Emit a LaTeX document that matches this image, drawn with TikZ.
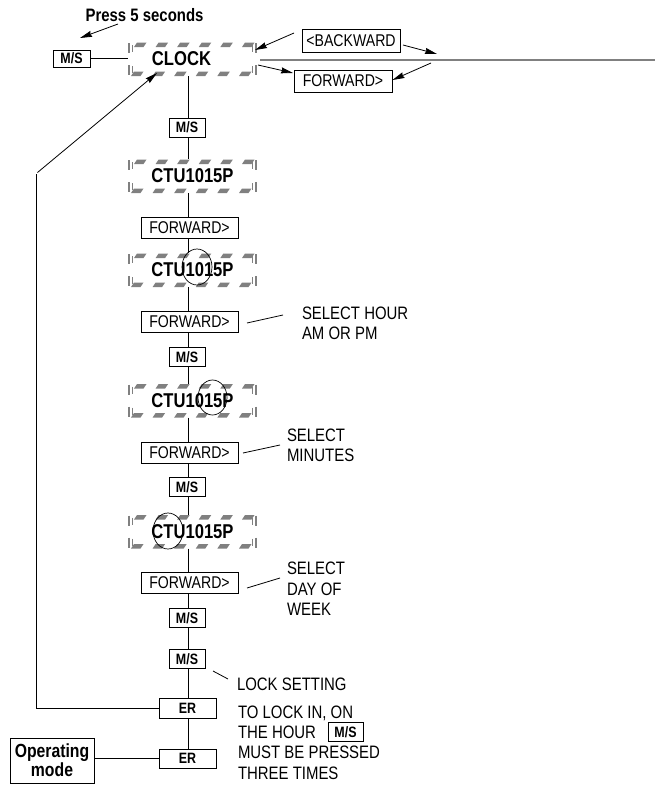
\documentclass[tikz,border=0pt]{standalone}
\usepackage{fontspec}
\setmainfont{Liberation Sans}[FakeStretch=0.83]
\usetikzlibrary{arrows.meta,calc}
\definecolor{hatchgray}{RGB}{128,128,128}
\newcommand\hatchbox[1]{%
  \begin{scope}[shift={(#1.north west)}]
    \foreach \i in {0,...,5} {
      \fill[hatchgray] ({\i*21.6+6},5) -- ++(9.5,0) -- ++(3,-4.5) -- ++(-9.5,0) -- cycle;
      \fill[hatchgray] ({\i*21.6+3},34) -- ++(9.5,0) -- ++(3,-4.5) -- ++(-9.5,0) -- cycle;
    }
    \draw[hatchgray,line width=1.6pt] (1,1) -- (1,11) (1,23) -- (1,33)
                                        (128,1) -- (128,11) (128,23) -- (128,33);
    \draw[hatchgray,line width=0.9pt] (4.5,3) -- (4.5,10) (4.5,24) -- (4.5,31)
                                        (124.5,3) -- (124.5,10) (124.5,24) -- (124.5,31);
  \end{scope}}
\begin{document}
\begin{tikzpicture}[x=1pt,y=-1pt,
  every node/.style={inner sep=0pt, outer sep=0pt},
  btn/.style={draw, line width=0.8pt, minimum width=36pt, minimum height=19pt,
    font=\bfseries\fontsize{15}{15}\selectfont},
  fwdbox/.style={draw, line width=0.8pt, minimum width=97pt, minimum height=21pt,
    font=\fontsize{17}{17}\selectfont},
  disp/.style={minimum width=129pt, minimum height=34pt,
    font=\bfseries\fontsize{20}{20}\selectfont},
  note/.style={anchor=west, align=left, font=\fontsize{18}{20.3}\selectfont},
  conn/.style={line width=0.8pt},
  arr/.style={line width=0.8pt, -{Stealth[length=12pt,width=6pt,inset=1pt]}}
]
\useasboundingbox (0,0) rectangle (655,787);

% coordinates
\coordinate (sp) at (188,0);

% display boxes
\node[disp] (clock) at (192.5,59) {\hspace*{-22pt}CLOCK};
\node[disp] (ctu1) at (192.5,176) {CTU1015P};
\node[disp] (ctu2) at (192.5,270) {CTU1015P};
\node[disp] (ctu3) at (192.5,400.5) {CTU1015P};
\node[disp] (ctu4) at (192.5,531.5) {CTU1015P};
\hatchbox{clock}
\hatchbox{ctu1}
\hatchbox{ctu2}
\hatchbox{ctu3}
\hatchbox{ctu4}

% buttons
\node[btn, minimum width=37pt, minimum height=17pt] (msl) at (71.5,58.5) {M/S};
\node[btn] (ms1) at (187,127.5) {M/S};
\node[btn] (ms2) at (187,357) {M/S};
\node[btn] (ms3) at (187,487) {M/S};
\node[btn] (ms4) at (187,618) {M/S};
\node[btn] (ms5) at (187,659) {M/S};
\node[btn, minimum width=57pt, minimum height=20pt] (er1) at (187.5,708) {ER};
\node[btn, minimum width=57pt, minimum height=19pt] (er2) at (187.5,758.5) {ER};
\node[draw, line width=0.8pt, minimum width=84pt, minimum height=45pt, align=center,
      font=\bfseries\fontsize{19}{19}\selectfont] (opm) at (52,760.5) {Operating\\mode};

\node[fwdbox, minimum width=98pt, minimum height=23pt] (back) at (351,40.5) {<BACKWARD};
\node[fwdbox, minimum width=98pt, minimum height=22pt] (fwdt) at (343,81) {FORWARD>};
\node[fwdbox] (fwd1) at (189.5,227.5) {FORWARD>};
\node[fwdbox] (fwd2) at (189.5,321.5) {FORWARD>};
\node[fwdbox] (fwd3) at (189.5,453) {FORWARD>};
\node[fwdbox] (fwd4) at (189.5,583) {FORWARD>};

% texts
\node[font=\bfseries\fontsize{18}{18}\selectfont] (press) at (144.5,15) {Press 5 seconds};
\node[note] (t1) at (302,323) {SELECT HOUR\\AM OR PM};
\node[note] (t2) at (287,445) {SELECT\\MINUTES};
\node[note] (t3) at (287,589) {SELECT\\DAY OF\\WEEK};
\node[note] (t4) at (237,684) {LOCK SETTING};
\node[note] (t5) at (238,742.5) {TO LOCK IN, ON\\THE HOUR\\MUST BE PRESSED\\THREE TIMES};
\node[btn, minimum width=35pt, minimum height=19pt] (msin) at (345.5,732) {M/S};

% circles
\draw[line width=0.7pt] (197,267) ellipse [x radius=15pt, y radius=18pt];
\draw[line width=0.7pt] (212.5,397.5) ellipse [x radius=14.5pt, y radius=17.5pt];
\draw[line width=0.7pt] (168,531) ellipse [x radius=15pt, y radius=18pt];

% spine
\foreach \a/\b in {clock/ms1, ms1/ctu1, ctu1/fwd1, fwd1/ctu2, ctu2/fwd2, fwd2/ms2,
                   ms2/ctu3, ctu3/fwd3, fwd3/ms3, ms3/ctu4, ctu4/fwd4, fwd4/ms4,
                   ms4/ms5, ms5/er1, er1/er2}
  \draw[conn] (\a.south -| sp) -- (\b.north -| sp);

% other connectors
\draw[conn] (msl.east) -- (msl.east -| clock.west);
\draw[conn] (opm.east |- er2.west) -- (er2.west);
\coordinate (lc) at (36,174);
\coordinate (lc2) at (37.5,172.5);
\coordinate (clktip) at (157,73);
\draw[conn] (er1.west) -| (lc);
\draw[arr] (lc2) -- (clktip);

% gray line
\coordinate (gl) at (260,60);
\coordinate (gr) at (655,60);
\draw[hatchgray, line width=1.8pt] (gl) -- (gr);

% arrows
\coordinate (pa) at (118,24); \coordinate (pb) at (80,38);
\draw[arr] (pa) -- (pb);
\coordinate (ba) at (294,33); \coordinate (bb) at (255,50);
\draw[arr] (ba) -- (bb);
\coordinate (bc) at (403,45); \coordinate (bd) at (437,54);
\draw[arr] (bc) -- (bd);
\coordinate (fa) at (258,65); \coordinate (fb) at (293,73);
\draw[arr] (fa) -- (fb);
\coordinate (fc) at (431,63); \coordinate (fd) at (392.5,80);
\draw[arr] (fc) -- (fd);

% note leaders
\coordinate (l1a) at (247,323); \coordinate (l1b) at (283,315);
\draw[conn] (l1a) -- (l1b);
\coordinate (l2a) at (243,453); \coordinate (l2b) at (280,445);
\draw[conn] (l2a) -- (l2b);
\coordinate (l3a) at (247,588); \coordinate (l3b) at (280,578);
\draw[conn] (l3a) -- (l3b);
\coordinate (l4a) at (213,671); \coordinate (l4b) at (228,679);
\draw[conn] (l4a) -- (l4b);
\end{tikzpicture}
\end{document}
